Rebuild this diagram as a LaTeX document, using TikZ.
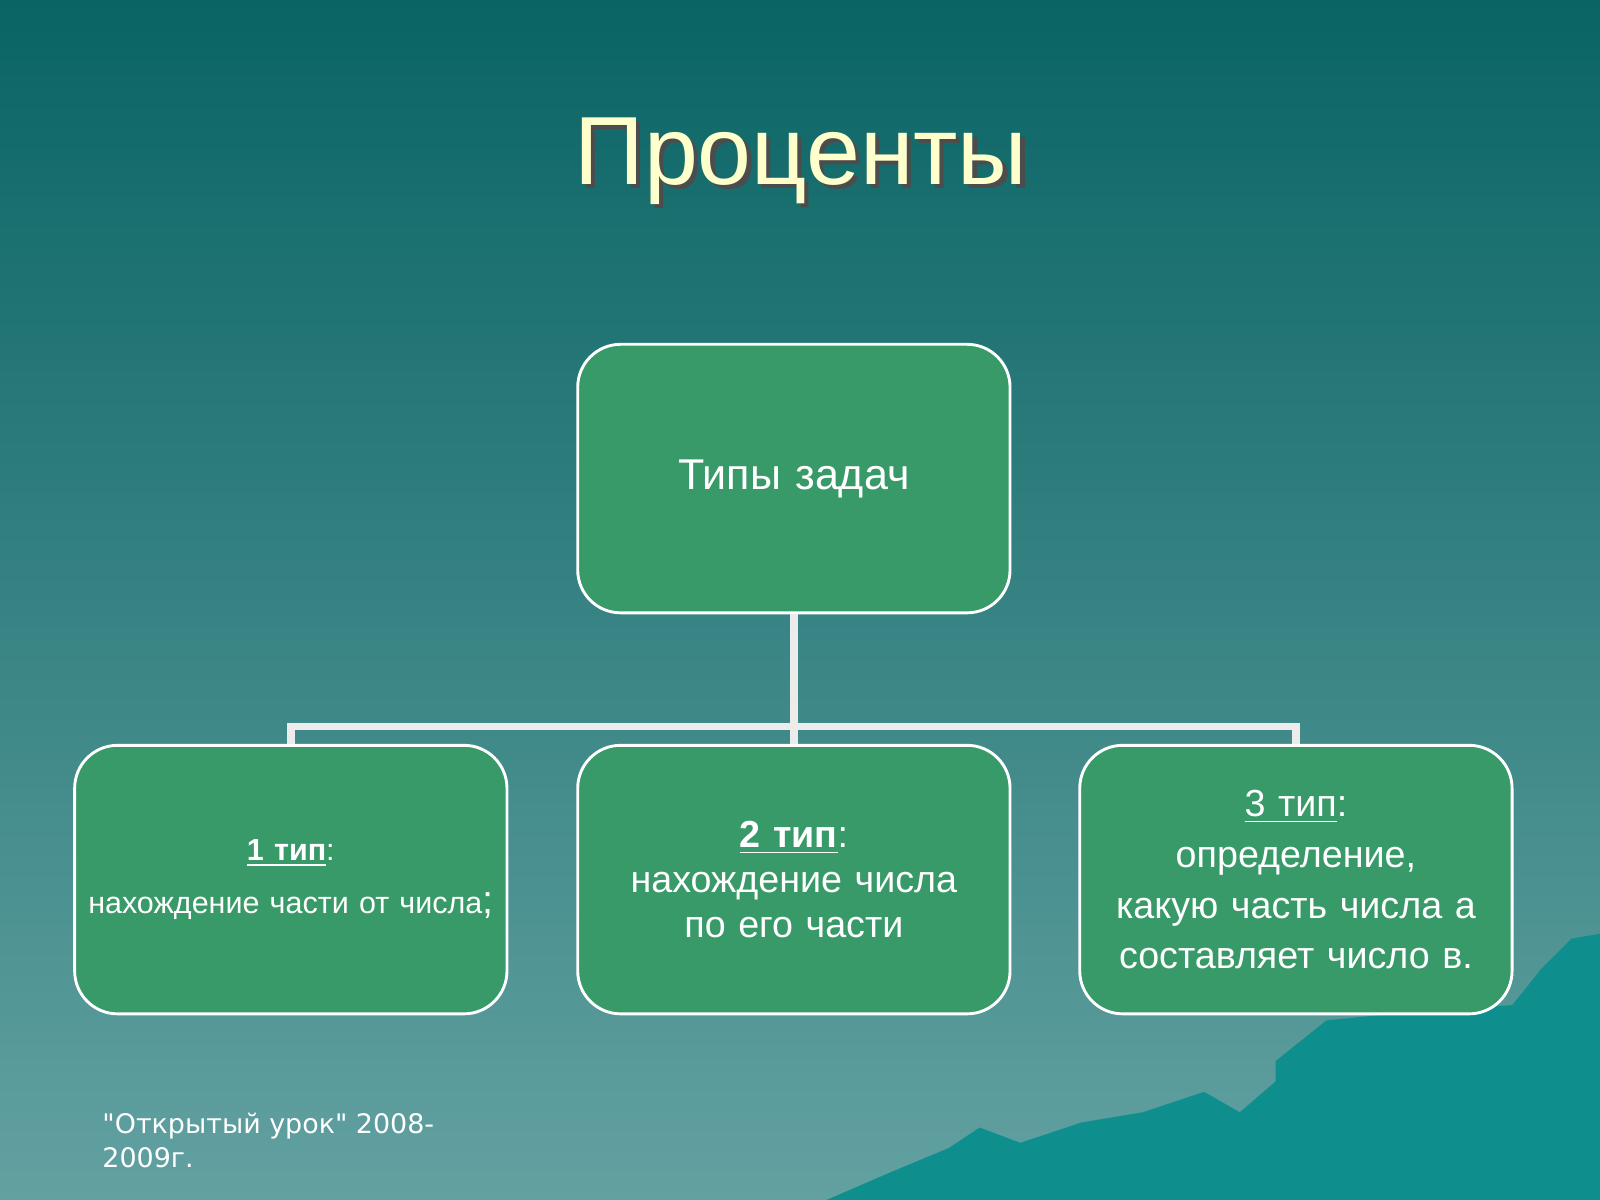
\documentclass[tikz,border=0pt]{standalone}
\usepackage{fontspec}
\setmainfont{Liberation Sans}
\newfontfamily\footfont{DejaVu Sans}
\usetikzlibrary{positioning}
\definecolor{bgtop}{HTML}{0A6464}
\definecolor{bgbot}{HTML}{63A1A1}
\definecolor{boxgreen}{HTML}{389A68}
\definecolor{titlecol}{HTML}{FFFFCC}
\definecolor{rock}{HTML}{0F8E8E}
\tikzset{
  typebox/.style={draw=white, thick, fill=boxgreen, rounded corners=0.42cm,
    minimum width=4.22cm, minimum height=2.63cm, text width=4cm, text=white, align=center},
  link/.style={draw=white!85!gray, line width=2.2pt}
}
\begin{document}
\begin{tikzpicture}[x=0.01cm,y=-0.01cm]
  \useasboundingbox (0,0) rectangle (1568,1176);
  \shade[top color=bgtop, bottom color=bgbot] (0,0) rectangle (1568,1176);
  % mountains
  \fill[rock] (810,1176) -- (870,1150) -- (930,1125) -- (960,1105) -- (1000,1120)
    -- (1060,1100) -- (1120,1090) -- (1180,1070) -- (1215,1090) -- (1250,1060)
    -- (1250,1040) -- (1300,1000) -- (1400,990) -- (1482,985) -- (1510,950)
    -- (1540,920) -- (1568,915) -- (1568,1176) -- cycle;
  % title
  \node[text=black!70, font=\fontsize{27}{30}\selectfont] at (789,162) {Проценты};
  \node (title) [text=titlecol, font=\fontsize{27}{30}\selectfont] at (785,158) {Проценты};
  % boxes
  \node[typebox, font=\fontsize{12}{14}\selectfont] (types) at (778,469) {Типы задач};
  \node[typebox, font=\fontsize{8.5}{15}\selectfont] (t1) at (285,862)
    {\textbf{\underline{1 тип}}:\\нахождение части от числа\fontsize{11}{15}\selectfont;};
  \node[typebox, font=\fontsize{10.5}{12.5}\selectfont] (t2) at (778,862)
    {\textbf{\underline{2 тип}}:\\нахождение числа\\по его части\\[12pt]};
  \node[typebox, font=\fontsize{10.5}{14.2}\selectfont] (t3) at (1270,862)
    {\underline{3 тип}:\\определение,\\какую часть числа а\\составляет число в.\\[8pt]};
  % connectors
  \coordinate (hub) at (778,712);
  \draw[link] (types.south) -- (hub);
  \draw[link] (t1.north) |- (t3.north |- hub) -- (t3.north);
  \draw[link] (hub) -- (t2.north);
  % footer
  \node[text=white, font=\footfont\fontsize{7.5}{9.5}\selectfont, align=left, anchor=north west]
    (foot) at (88,1078) {"Открытый урок" 2008-\\2009г.};
\end{tikzpicture}
\end{document}
